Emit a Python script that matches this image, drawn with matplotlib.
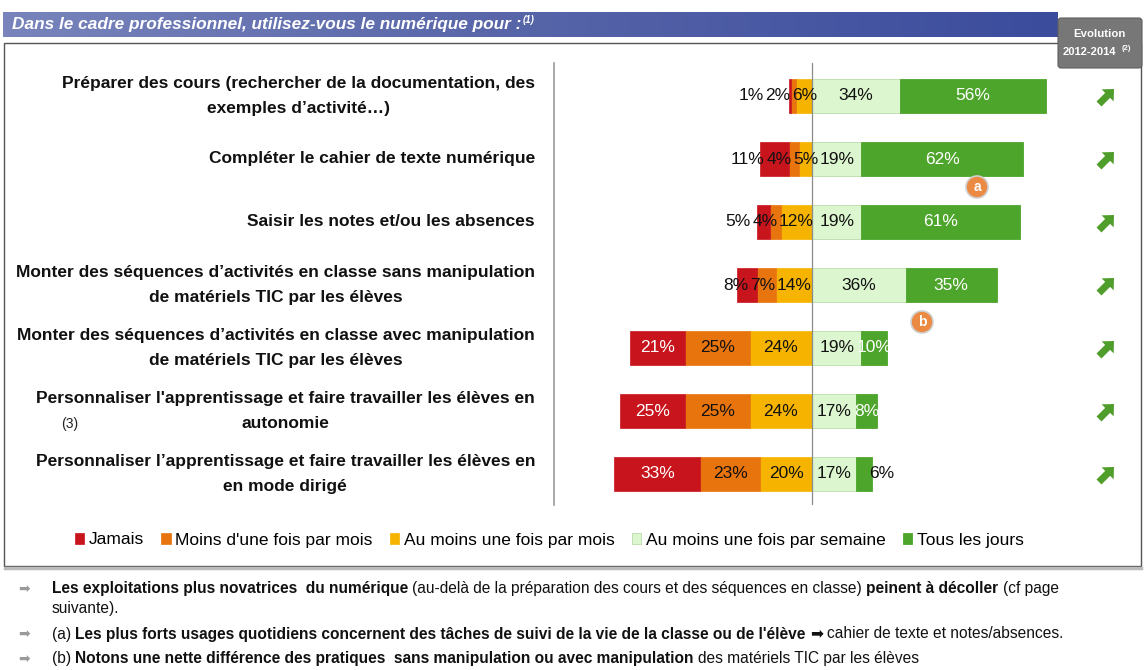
import numpy as np
import matplotlib
matplotlib.use('Agg')
import matplotlib.pyplot as plt
from matplotlib.colors import LinearSegmentedColormap
from matplotlib.patches import Rectangle, FancyArrow, Circle, FancyBboxPatch

W, H = 1144, 670

#%% data

categories = [
    "Préparer des cours (rechercher de la documentation, des\nexemples d’activité…)",
    "Compléter le cahier de texte numérique",
    "Saisir les notes et/ou les absences",
    "Monter des séquences d’activités en classe sans manipulation\nde matériels TIC par les élèves",
    "Monter des séquences d’activités en classe avec manipulation\nde matériels TIC par les élèves",
    "Personnaliser l'apprentissage et faire travailler les élèves en\nautonomie",
    "Personnaliser l’apprentissage et faire travailler les élèves en\nen mode dirigé",
]
series = ["Jamais", "Moins d'une fois par mois", "Au moins une fois par mois",
          "Au moins une fois par semaine", "Tous les jours"]
jamais        = [1, 11, 5, 8, 21, 25, 33]
moins_mois    = [2, 4, 4, 7, 25, 25, 23]
au_moins_mois = [6, 5, 12, 14, 24, 24, 20]
semaine       = [34, 19, 19, 36, 19, 17, 17]
tous_jours    = [56, 62, 61, 35, 10, 8, 6]
colors = ['#c8141c', '#e8740e', '#f6b400', '#dcf6cf', '#4ea52c']

title = "Dans le cadre professionnel, utilisez-vous le numérique pour :"
notes = [
    [("Les exploitations plus novatrices  du numérique", True),
     (" (au-delà de la préparation des cours et des séquences en classe) ", False),
     ("peinent à décoller", True), (" (cf page", False)],
    [("suivante).", False)],
    [("(a) ", False),
     ("Les plus forts usages quotidiens concernent des tâches de suivi de la vie de la classe ou de l'élève", True),
     (" ➡ ", False), ("cahier de texte et notes/absences.", False)],
    [("(b) ", False),
     ("Notons une nette différence des pratiques  sans manipulation ou avec manipulation", True),
     (" des matériels TIC par les élèves", False)],
]

#%% figure

plt.rcParams['font.family'] = ['Liberation Sans', 'DejaVu Sans']
fig = plt.figure(figsize=(W / 100, H / 100), dpi=100, facecolor='white')
r = fig.canvas.get_renderer()

# bar axes: zero at x=812 px, 2.6 px per %
pxu = 2.6
x0, x1, zero = 555, 1060, 812
ytop, ybot = 63, 505
ax = fig.add_axes([x0 / W, 1 - ybot / H, (x1 - x0) / W, (ybot - ytop) / H])
ax.set_facecolor('none')
ax.set_xlim(-(zero - x0) / pxu, (x1 - zero) / pxu)
row0, rowstep = 96, 63
ax.set_ylim((ybot - row0) / rowstep, (ytop - row0) / rowstep)
ax.axis('off')

n = len(categories)
y = np.arange(n)
neg = [au_moins_mois, moins_mois, jamais]          # from zero outwards
pos = [semaine, tous_jours]
h = 0.53
conts = {}
left = np.zeros(n)
for vals, c, name in zip(neg, [colors[2], colors[1], colors[0]], [series[2], series[1], series[0]]):
    v = np.array(vals, float)
    left = left - v
    conts[name] = ax.barh(y, v, left=left, height=h, color=c, edgecolor=c, linewidth=0.5, zorder=2)
left = np.zeros(n)
for vals, c, name in zip(pos, [colors[3], colors[4]], [series[3], series[4]]):
    v = np.array(vals, float)
    conts[name] = ax.barh(y, v, left=left, height=h, color=c,
                          edgecolor='#b9dcaa' if name == series[3] else c, linewidth=0.6, zorder=2)
    left = left + v
ax.axvline(0, color='#8a8a8a', lw=0.9, zorder=3)

# value labels
lab_kw = dict(fontsize=12.5, va='center', zorder=4)

def tw(s):
    t = ax.text(0, 0, s, **lab_kw)
    w = t.get_window_extent(r).width / pxu
    t.remove()
    return w

gap = 0.6
for i in range(n):
    limit = np.inf
    edge = 0.0
    for k, vals in enumerate(neg):
        v = vals[i]
        s = f"{v}%"
        w = tw(s)
        c = edge - v / 2
        right = min(c + w / 2, limit - gap)
        inside = (right - w / 2) > edge - v and (right - w / 2) < edge
        white = (k == 2) and inside
        ax.text(right, i, s, ha='right', color='white' if white else '#111111', **lab_kw)
        limit = right - w
        edge -= v
    limit = -np.inf
    edge = 0.0
    for k, vals in enumerate(pos):
        v = vals[i]
        s = f"{v}%"
        w = tw(s)
        c = edge + v / 2
        if k == 1 and v < 0.7 * w:
            lft = edge + v - 1.0
            white = False
        else:
            lft = max(c - w / 2, limit + gap)
            white = k == 1
        ax.text(lft, i, s, ha='left', color='white' if white else '#111111', **lab_kw)
        limit = lft + w
        edge += v

# legend
fig.legend([conts[s] for s in series], series, ncol=5, loc='center',
           bbox_to_anchor=(549 / W, 1 - 540 / H), frameon=False, fontsize=12.5,
           handlelength=0.55, handleheight=0.55, handletextpad=0.25, columnspacing=1.0)

#%% decorations in pixel coordinates
ov = fig.add_axes([0, 0, 1, 1], zorder=5)
ov.set_facecolor('none')
ov.axis('off')

cm_blue = LinearSegmentedColormap.from_list('b', ['#7884bb', '#5664a8', '#3b4c9d'])
ov.imshow(np.linspace(0, 1, 256)[None, :], extent=[3, 1058, 37, 12], aspect='auto', cmap=cm_blue)
t = ov.text(12, 25, title, color='white', fontsize=12.4, fontweight='bold', style='italic', va='center')
tb = t.get_window_extent(r)
ov.text(tb.x1 + 4, 20, "(1)", color='white', fontsize=7, fontweight='bold', style='italic', va='center')

# panel
ov.add_patch(Rectangle((4, 43), 1137, 523, facecolor='none', edgecolor='#555555', lw=1.0))
ov.plot([5, 1141], [568, 568], color='#bbbbbb', lw=2.5)
ov.plot([554, 554], [63, 505], color='#9a9a9a', lw=1.2)

# evolution box
ov.add_patch(FancyBboxPatch((1058, 18), 84, 50, boxstyle='round,pad=0,rounding_size=3',
                            facecolor='#777777', edgecolor='#5e5e5e', lw=0.8))
ov.text(1099, 34, "Evolution", color='white', fontsize=8.2, fontweight='bold', ha='center', va='center')
ov.text(1063, 52, "2012-2014", color='white', fontsize=8, fontweight='bold', ha='left', va='center')
ov.text(1122, 49, "(2)", color='white', fontsize=5.5, fontweight='bold', ha='left', va='center')

# categories and evolution arrows
cat_kw = dict(fontsize=12.5, fontweight='bold', color='#111111', va='center', ha='center')
for i, lab in enumerate(categories):
    yc = row0 + rowstep * i
    lines = lab.split('\n')
    widths = []
    for ln in lines:
        t = ov.text(0, 0, ln, **cat_kw)
        widths.append(t.get_window_extent(r).width)
        t.remove()
    cx = 535 - max(widths) / 2
    for j, ln in enumerate(lines):
        ov.text(cx, yc + (j - (len(lines) - 1) / 2) * 25, ln, **cat_kw)
    ov.add_patch(FancyArrow(1099, yc + 8, 15, -15, width=7, head_width=17, head_length=9,
                            length_includes_head=True, color='#4f9d2a', lw=0))
ov.text(70, 424, "(3)", fontsize=10, ha='center', va='center', color='#222222')

# note markers
for (cx, cy), letter in zip([(977, 187), (922, 322)], ['a', 'b']):
    ov.add_patch(Circle((cx, cy), 11, facecolor='#ea8a43', edgecolor='#d0d0d0', lw=1.2))
    ov.text(cx, cy, letter, color='white', fontsize=10, fontweight='bold', ha='center', va='center')

# footnotes
nfs = 11.2
sp = {}
for b in (False, True):
    wt = 'bold' if b else 'normal'
    t1 = ov.text(0, 0, "a a", fontsize=nfs, fontweight=wt)
    t2 = ov.text(0, 0, "aa", fontsize=nfs, fontweight=wt)
    sp[b] = t1.get_window_extent(r).width - t2.get_window_extent(r).width
    t1.remove(); t2.remove()

for parts, yy, bullet in zip(notes, [589, 609, 634, 659], [True, False, True, True]):
    if bullet:
        ov.text(18, yy, "➡", fontsize=10, color='#9a9a9a', va='center', family=['DejaVu Sans'])
    x = 52
    for s, b in parts:
        lead = len(s) - len(s.lstrip(' '))
        trail = len(s) - len(s.rstrip(' '))
        core = s.strip(' ')
        x += lead * sp[b]
        t = ov.text(x, yy, core, ha='left', va='center', fontsize=nfs, color='#111111',
                    fontweight='bold' if b else 'normal')
        x += t.get_window_extent(r).width + trail * sp[b]

ov.set_xlim(0, W)
ov.set_ylim(H, 0)

fig.savefig('out.png', dpi=100)
